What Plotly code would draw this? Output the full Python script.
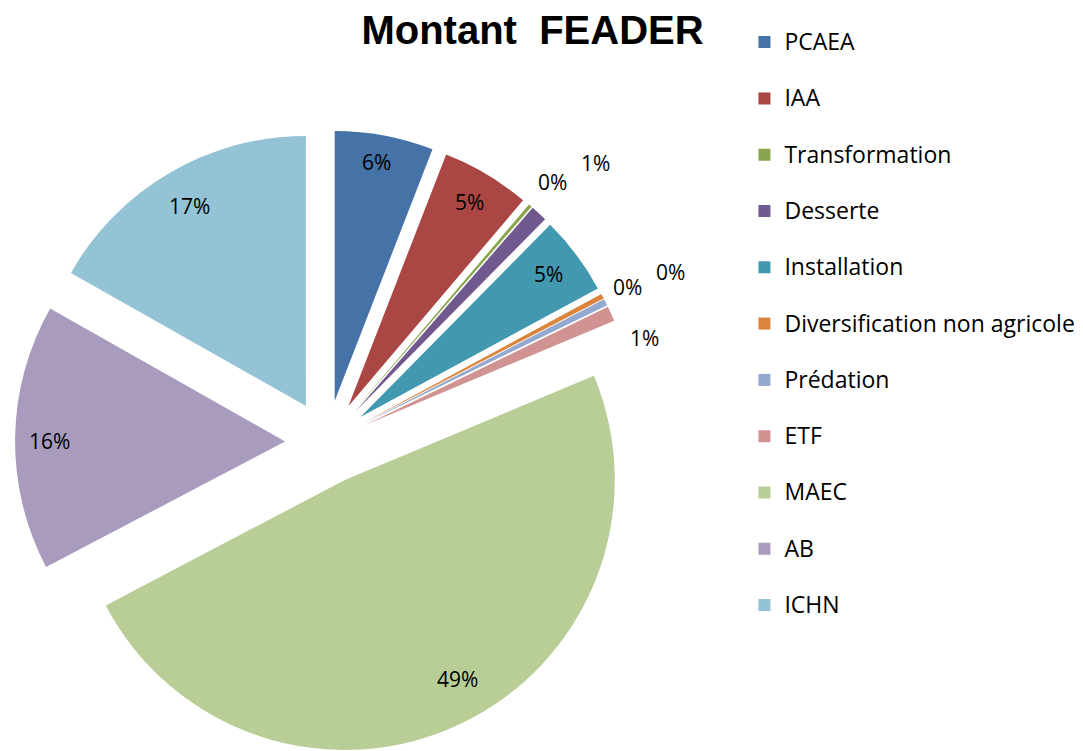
import math
import plotly.graph_objects as go

categories = ["PCAEA", "IAA", "Transformation", "Desserte", "Installation",
              "Diversification non agricole", "Prédation", "ETF", "MAEC", "AB", "ICHN"]
values = [5.9, 5.3, 0.2, 1.0, 4.7, 0.3, 0.4, 0.9, 48.6, 15.9, 16.8]
colors = ["#4572A7", "#AA4643", "#89A54E", "#71588F", "#4198AF", "#DB843D",
          "#93A9CF", "#D19392", "#B9CD96", "#A99BBD", "#93C3D5"]
# placement of each percentage label: radius fraction and angular nudge (deg)
label_radius = [0.90, 0.88, 1.12, 1.28, 0.876, 1.096, 1.266, 1.085, 0.848, 0.871, 0.855]
label_shift = [-0.8, 0.0, 0.2, 1.1, -0.3, 0.7, 0.4, 7.0, -4.4, -0.7, 0.1]

W, H = 1083, 751
PULL = 0.155
DOM_X = [0.0, 0.589]
DOM_Y = [0.0067, 0.8372]
LABEL_FONT = "Open Sans"

legend_labels = ["<span style='font-size:23px'>%s</span><br>\u00a0" % c for c in categories]

fig = go.Figure(go.Pie(
    labels=legend_labels,
    values=values,
    sort=False,
    direction="clockwise",
    rotation=0,
    pull=PULL,
    automargin=False,
    marker=dict(colors=colors, line=dict(width=0)),
    textinfo="none",
    hoverinfo="percent",
    domain=dict(x=DOM_X, y=DOM_Y),
))

# percentage labels placed with the same geometry plotly uses for the pie
box = min((DOM_X[1] - DOM_X[0]) * W, (DOM_Y[1] - DOM_Y[0]) * H)
R = box / (2 * (1 + PULL))
cx = W * (DOM_X[0] + DOM_X[1]) / 2
cy = H * (1 - DOM_Y[0]) - box / 2
total = sum(values)
cum = 0.0
for v, fr, sh in zip(values, label_radius, label_shift):
    mid = 2 * math.pi * (cum + v / 2) / total
    cum += v
    sx, sy = math.sin(mid), -math.cos(mid)
    lab = mid + math.radians(sh)
    lx, ly = math.sin(lab), -math.cos(lab)
    px = cx + PULL * R * sx + fr * R * lx
    py = cy + PULL * R * sy + fr * R * ly
    fig.add_annotation(
        x=px / W, y=1 - py / H, xref="paper", yref="paper",
        text="%d%%" % round(100 * v / total), showarrow=False,
        xanchor="center", yanchor="middle",
        font=dict(family=LABEL_FONT, size=21, color="#000000"),
    )

fig.update_layout(
    width=W, height=H,
    margin=dict(l=0, r=0, t=0, b=0),
    paper_bgcolor="white",
    plot_bgcolor="white",
    font=dict(family=LABEL_FONT, size=20, color="#000000"),
    title=dict(text="<b>Montant  FEADER</b>", x=0.4843, xanchor="center",
               y=0.9893, yanchor="top", pad=dict(t=0, b=0),
               font=dict(family="Liberation Sans", size=40, color="#000000")),
    legend=dict(x=0.680, xanchor="left", y=0.981, yanchor="top",
                valign="top", font=dict(family=LABEL_FONT, size=20.5),
                bgcolor="rgba(0,0,0,0)"),
    showlegend=True,
)

fig.write_html("out.html")
